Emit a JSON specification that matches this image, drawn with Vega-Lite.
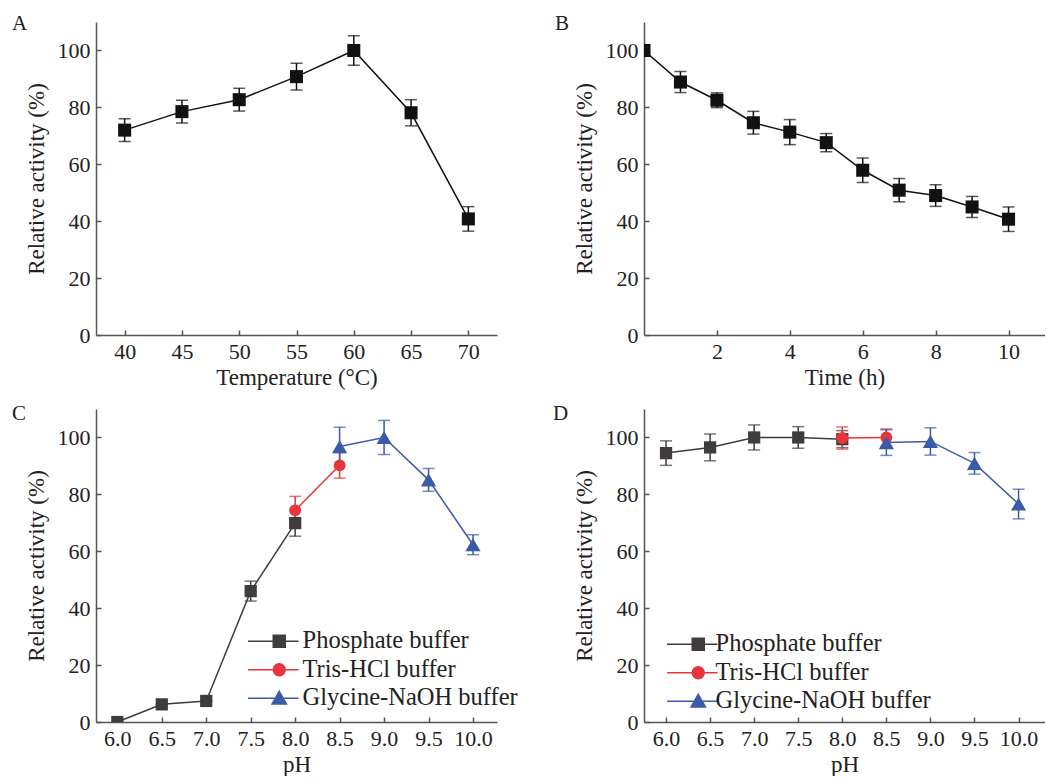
{
  "$schema": "https://vega.github.io/schema/vega-lite/v6.json",
  "background": "white",
  "padding": {"left": 12, "top": 13, "right": 0, "bottom": 0},
  "columns": 2,
  "spacing": {"row": 74, "column": 147},
  "bounds": "flush",
  "resolve": {"scale": {"color": "independent"}, "legend": {"color": "independent"}},
  "datasets": {
    "temp": [
      {"temperature": 40, "activity": 72.0, "err": 4.0},
      {"temperature": 45, "activity": 78.5, "err": 4.0},
      {"temperature": 50, "activity": 82.7, "err": 4.0},
      {"temperature": 55, "activity": 90.8, "err": 4.7},
      {"temperature": 60, "activity": 100.0, "err": 5.2},
      {"temperature": 65, "activity": 78.1, "err": 4.6},
      {"temperature": 70, "activity": 40.8, "err": 4.3}
    ],
    "time": [
      {"time": 0, "activity": 100.0, "err": 0},
      {"time": 1, "activity": 88.9, "err": 3.7},
      {"time": 2, "activity": 82.5, "err": 2.6},
      {"time": 3, "activity": 74.6, "err": 4.0},
      {"time": 4, "activity": 71.3, "err": 4.4},
      {"time": 5, "activity": 67.6, "err": 3.2},
      {"time": 6, "activity": 57.9, "err": 4.3},
      {"time": 7, "activity": 50.9, "err": 4.1},
      {"time": 8, "activity": 49.0, "err": 3.8},
      {"time": 9, "activity": 45.0, "err": 3.7},
      {"time": 10, "activity": 40.7, "err": 4.3}
    ],
    "phC": [
      {"pH": 6.0, "activity": 0.0, "err": 0, "buffer": "Phosphate buffer"},
      {"pH": 6.5, "activity": 6.2, "err": 0, "buffer": "Phosphate buffer"},
      {"pH": 7.0, "activity": 7.4, "err": 0, "buffer": "Phosphate buffer"},
      {"pH": 7.5, "activity": 46.0, "err": 3.5, "buffer": "Phosphate buffer"},
      {"pH": 8.0, "activity": 69.9, "err": 4.6, "buffer": "Phosphate buffer"},
      {"pH": 8.0, "activity": 74.4, "err": 4.9, "buffer": "Tris-HCl buffer"},
      {"pH": 8.5, "activity": 90.2, "err": 4.5, "buffer": "Tris-HCl buffer"},
      {"pH": 8.5, "activity": 96.8, "err": 6.8, "buffer": "Glycine-NaOH buffer"},
      {"pH": 9.0, "activity": 100.0, "err": 6.0, "buffer": "Glycine-NaOH buffer"},
      {"pH": 9.5, "activity": 85.1, "err": 4.0, "buffer": "Glycine-NaOH buffer"},
      {"pH": 10.0, "activity": 62.3, "err": 3.5, "buffer": "Glycine-NaOH buffer"}
    ],
    "phD": [
      {"pH": 6.0, "activity": 94.5, "err": 4.3, "buffer": "Phosphate buffer"},
      {"pH": 6.5, "activity": 96.5, "err": 4.7, "buffer": "Phosphate buffer"},
      {"pH": 7.0, "activity": 100.0, "err": 4.4, "buffer": "Phosphate buffer"},
      {"pH": 7.5, "activity": 100.0, "err": 3.8, "buffer": "Phosphate buffer"},
      {"pH": 8.0, "activity": 99.4, "err": 3.0, "buffer": "Phosphate buffer"},
      {"pH": 8.0, "activity": 99.8, "err": 3.9, "buffer": "Tris-HCl buffer"},
      {"pH": 8.5, "activity": 100.0, "err": 3.0, "buffer": "Tris-HCl buffer"},
      {"pH": 8.5, "activity": 98.2, "err": 4.5, "buffer": "Glycine-NaOH buffer"},
      {"pH": 9.0, "activity": 98.6, "err": 4.8, "buffer": "Glycine-NaOH buffer"},
      {"pH": 9.5, "activity": 90.9, "err": 3.8, "buffer": "Glycine-NaOH buffer"},
      {"pH": 10.0, "activity": 76.6, "err": 5.2, "buffer": "Glycine-NaOH buffer"}
    ]
  },
  "concat": [
    {
      "width": 401, "height": 313,
      "title": {"text": "A", "dx": -84, "dy": 29, "offset": 0, "baseline": "alphabetic"},
      "data": {"name": "temp"},
      "encoding": {
        "x": {"field": "temperature", "type": "quantitative", "scale": {"domain": [37.5, 72.5]}, "axis": {"title": "Temperature (°C)", "values": [40, 45, 50, 55, 60, 65, 70]}},
        "y": {"field": "activity", "type": "quantitative", "scale": {"domain": [0, 110]}, "axis": {"title": "Relative activity (%)", "values": [0, 20, 40, 60, 80, 100]}}
      },
      "layer": [
        {"mark": {"type": "errorbar", "ticks": {"size": 12}, "thickness": 1.5, "color": "#111"}, "encoding": {"yError": {"field": "err"}}},
        {"mark": {"type": "line", "color": "#111", "strokeWidth": 1.5}},
        {"mark": {"type": "point", "shape": "square", "filled": true, "size": 170, "color": "#111", "opacity": 1}}
      ]
    },
    {
      "width": 401, "height": 313,
      "title": {"text": "B", "dx": -89, "dy": 29, "offset": 0, "baseline": "alphabetic"},
      "data": {"name": "time"},
      "encoding": {
        "x": {"field": "time", "type": "quantitative", "scale": {"domain": [0, 11]}, "axis": {"title": "Time (h)", "values": [2, 4, 6, 8, 10]}},
        "y": {"field": "activity", "type": "quantitative", "scale": {"domain": [0, 110]}, "axis": {"title": "Relative activity (%)", "values": [0, 20, 40, 60, 80, 100]}}
      },
      "layer": [
        {"mark": {"type": "errorbar", "ticks": {"size": 12}, "thickness": 1.5, "color": "#111", "clip": true}, "encoding": {"yError": {"field": "err"}}},
        {"mark": {"type": "line", "color": "#111", "strokeWidth": 1.5}},
        {"mark": {"type": "point", "shape": "square", "filled": true, "size": 170, "color": "#111", "opacity": 1, "clip": true}}
      ]
    },
    {
      "width": 401, "height": 313,
      "title": {"text": "C", "dx": -84, "dy": 32, "offset": 0, "baseline": "alphabetic"},
      "data": {"name": "phC"},
      "encoding": {
        "x": {"field": "pH", "type": "quantitative", "scale": {"domain": [5.76, 10.27]}, "axis": {"title": "pH", "values": [6, 6.5, 7, 7.5, 8, 8.5, 9, 9.5, 10], "format": ".1f"}},
        "y": {"field": "activity", "type": "quantitative", "scale": {"domain": [0, 110]}, "axis": {"title": "Relative activity (%)", "values": [0, 20, 40, 60, 80, 100]}},
        "color": {"field": "buffer", "type": "nominal", "scale": {"domain": ["Phosphate buffer", "Tris-HCl buffer", "Glycine-NaOH buffer"], "range": ["#403c3c", "#e8353d", "#3b5ba8"]},
          "legend": {"title": null, "orient": "none", "legendX": 171, "legendY": 220, "padding": 0, "labelFontSize": 24.5, "labelFont": "Liberation Serif", "labelColor": "#222", "labelLimit": 400, "rowPadding": 3.5, "symbolSize": 144, "labelOffset": 11,
            "encode": {"symbols": {"update": {
              "shape": {"signal": "datum.value == 'Phosphate buffer' ? 'M-5.2,0H3.2M-1,-1H1V1H-1Z' : datum.value == 'Tris-HCl buffer' ? 'M-5.2,0H3.2M-1,0A1,1,0,1,0,1,0A1,1,0,1,0,-1,0Z' : 'M-5.2,0H3.2M0,-1.15L1.2,0.95H-1.2Z'"},
              "strokeWidth": {"value": 1.5},
              "opacity": {"value": 1}
            }}}
          }
        }
      },
      "layer": [
        {"mark": {"type": "errorbar", "ticks": {"size": 12}, "thickness": 1.5, "clip": true}, "encoding": {"yError": {"field": "err"}}},
        {"mark": {"type": "line", "strokeWidth": 1.5}},
        {"transform": [{"filter": "datum.buffer == 'Phosphate buffer'"}], "mark": {"type": "point", "shape": "square", "filled": true, "size": 150, "opacity": 1, "clip": true}},
        {"transform": [{"filter": "datum.buffer == 'Tris-HCl buffer'"}], "mark": {"type": "point", "shape": "circle", "filled": true, "size": 140, "opacity": 1, "clip": true}},
        {"transform": [{"filter": "datum.buffer == 'Glycine-NaOH buffer'"}], "mark": {"type": "point", "shape": "triangle-up", "filled": true, "size": 230, "opacity": 1, "clip": true}}
      ]
    },
    {
      "width": 401, "height": 313,
      "title": {"text": "D", "dx": -91, "dy": 32, "offset": 0, "baseline": "alphabetic"},
      "data": {"name": "phD"},
      "encoding": {
        "x": {"field": "pH", "type": "quantitative", "scale": {"domain": [5.75, 10.3]}, "axis": {"title": "pH", "values": [6, 6.5, 7, 7.5, 8, 8.5, 9, 9.5, 10], "format": ".1f"}},
        "y": {"field": "activity", "type": "quantitative", "scale": {"domain": [0, 110]}, "axis": {"title": "Relative activity (%)", "values": [0, 20, 40, 60, 80, 100]}},
        "color": {"field": "buffer", "type": "nominal", "scale": {"domain": ["Phosphate buffer", "Tris-HCl buffer", "Glycine-NaOH buffer"], "range": ["#403c3c", "#e8353d", "#3b5ba8"]},
          "legend": {"title": null, "orient": "none", "legendX": 42, "legendY": 223, "padding": 0, "labelFontSize": 24.5, "labelFont": "Liberation Serif", "labelColor": "#222", "labelLimit": 400, "rowPadding": 3.5, "symbolSize": 144, "labelOffset": 5,
            "encode": {"symbols": {"update": {
              "shape": {"signal": "datum.value == 'Phosphate buffer' ? 'M-5.2,0H3.2M-1,-1H1V1H-1Z' : datum.value == 'Tris-HCl buffer' ? 'M-5.2,0H3.2M-1,0A1,1,0,1,0,1,0A1,1,0,1,0,-1,0Z' : 'M-5.2,0H3.2M0,-1.15L1.2,0.95H-1.2Z'"},
              "strokeWidth": {"value": 1.5},
              "opacity": {"value": 1}
            }}}
          }
        }
      },
      "layer": [
        {"mark": {"type": "errorbar", "ticks": {"size": 12}, "thickness": 1.5}, "encoding": {"yError": {"field": "err"}}},
        {"mark": {"type": "line", "strokeWidth": 1.5}},
        {"transform": [{"filter": "datum.buffer == 'Phosphate buffer'"}], "mark": {"type": "point", "shape": "square", "filled": true, "size": 150, "opacity": 1}},
        {"transform": [{"filter": "datum.buffer == 'Tris-HCl buffer'"}], "mark": {"type": "point", "shape": "circle", "filled": true, "size": 140, "opacity": 1}},
        {"transform": [{"filter": "datum.buffer == 'Glycine-NaOH buffer'"}], "mark": {"type": "point", "shape": "triangle-up", "filled": true, "size": 230, "opacity": 1}}
      ]
    }
  ],
  "config": {
    "font": "Liberation Serif",
    "view": {"stroke": null},
    "axis": {
      "grid": false,
      "domainColor": "#555",
      "domainWidth": 1.5,
      "tickColor": "#555",
      "tickWidth": 1.5,
      "tickSize": -5,
      "labelPadding": 11,
      "labelFont": "Liberation Serif",
      "labelFontSize": 22,
      "labelColor": "#222",
      "titleFont": "Liberation Serif",
      "titleFontSize": 23,
      "titleFontWeight": "normal",
      "titleColor": "#222"
    },
    "axisY": {"titlePadding": 9},
    "axisX": {"titlePadding": 4},
    "title": {"font": "Liberation Serif", "fontSize": 21, "fontWeight": "normal", "color": "#222", "anchor": "start", "frame": "group"}
  }
}
